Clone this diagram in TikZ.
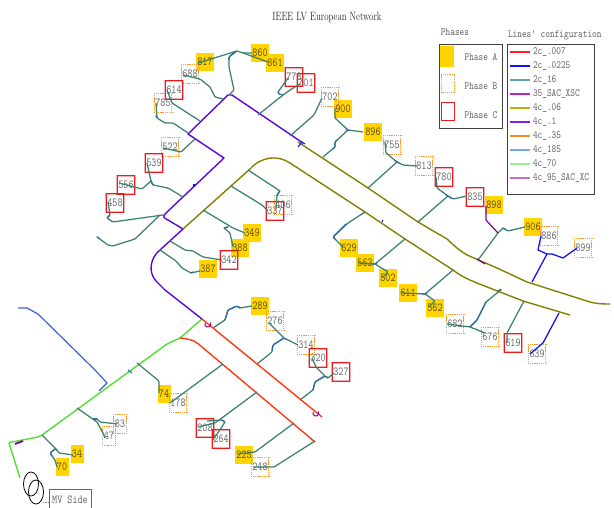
\documentclass[tikz,border=0pt]{standalone}
\usepackage{fontspec}
\usetikzlibrary{calc}
\newfontfamily\narrowtt[FakeStretch=0.81]{Latin Modern Mono}
\newfontfamily\narrowrm[FakeStretch=0.74]{Latin Modern Roman}
\definecolor{cteal}{HTML}{3C8070}
\definecolor{cblue}{HTML}{1010F0}
\definecolor{csteel}{HTML}{3A62D0}
\definecolor{cwig}{HTML}{2F6AA8}
\definecolor{cpurple}{HTML}{5A08E0}
\definecolor{colive}{HTML}{848000}
\definecolor{cred}{HTML}{FF3A10}
\definecolor{cgreen}{HTML}{50E030}
\definecolor{cmag}{HTML}{800090}
\definecolor{cgold}{HTML}{FFD400}
\definecolor{corange}{HTML}{FF9A30}
\definecolor{cbox}{HTML}{F01818}
\definecolor{ctext}{HTML}{606060}
\definecolor{cframe}{HTML}{404040}
\tikzset{
 every node/.style={inner sep=0pt,outer sep=0pt},
 phbase/.style={minimum width=17.5pt,minimum height=18.5pt},
 two/.style={minimum width=13pt},
 lab/.style={text=ctext,font=\narrowtt\fontsize{12.2}{13}\selectfont},
 laba/.style={text=black!65!cgold,font=\narrowtt\fontsize{12.2}{13}\selectfont},
 pha/.style={phbase,fill=cgold},
 br/.style={cteal,line width=1.25pt,line join=round,rounded corners=1pt},
 wig/.style={cwig,line width=1.25pt,line cap=round,rounded corners=1pt},
 bl/.style={cblue,line width=1.25pt,line join=round},
 pu/.style={cpurple,line width=1.4pt,line join=round},
 ol/.style={colive,line width=1.4pt,line join=round},
 rd/.style={cred,line width=1.4pt,line join=round},
 gr/.style={cgreen,line width=1.4pt,line join=round},
 st/.style={csteel,line width=1.2pt,line join=round},
 leg/.style={line width=1.3pt},
 legtext/.style={text=ctext,anchor=west,font=\narrowtt\fontsize{11}{12}\selectfont},
 legmid/.style={text=ctext,font=\narrowtt\fontsize{11}{12}\selectfont},
 framebox/.style={cframe,line width=.8pt},
}
% orange box outlined by filled dots: name, half width, list of x offsets of the dots
\newcommand{\dotring}[3]{%
  \foreach \u in {#3}{
    \fill[corange] ([shift={(\u-.65,-9.9)}]n#1.center) rectangle +(1.3,1.3);
    \fill[corange] ([shift={(\u-.65,8.6)}]n#1.center) rectangle +(1.3,1.3);
  }
  \foreach \v in {-7.15,-5.05,-2.95,-0.85,1.25,3.35,5.45,7.55}{
    \fill[corange] ([shift={(-#2-.65,\v-.65)}]n#1.center) rectangle +(1.3,1.3);
    \fill[corange] ([shift={(#2-.65,\v-.65)}]n#1.center) rectangle +(1.3,1.3);
  }}
\newcommand{\orangebox}[3]{\node[phbase] (n#1) at (#2,#3) {};
  \dotring{#1}{8.75}{-8.75,-6.55,-4.35,-2.15,0.05,2.25,4.45,6.65,8.85}}
\newcommand{\orangeboxtwo}[3]{\node[phbase,two] (n#1) at (#2,#3) {};
  \dotring{#1}{6.5}{-6.5,-4.3,-2.1,0.1,2.3,4.5,6.7}}
% a red box whose outline is a filled ring
\newcommand{\redbox}[3]{\node[phbase] (n#1) at (#2,#3) {};
  \fill[cbox,even odd rule]
    ([xshift=-.65pt,yshift=-.65pt]n#1.south west) rectangle ([xshift=.65pt,yshift=.65pt]n#1.north east)
    ([xshift=.65pt,yshift=.65pt]n#1.south west) rectangle ([xshift=-.65pt,yshift=-.65pt]n#1.north east);}
\begin{document}
\begin{tikzpicture}[x=1pt,y=-1pt]
\useasboundingbox (0,0) rectangle (614,508);
% phase boxes (all boxes first, then all their texts)
\foreach \n/\x/\y in {817/205/62,860/260/53,861/275/63,900/343/109,896/373/132,629/349/248,563/365/263,502/388/278,611/408/293,562/435/308,906/533/227,898/494/205,349/252/233,388/240/248,387/208/269,289/260/306,225/244/455}
  \node[pha] (n\n) at (\x,\y) {};
\foreach \n/\x/\y in {74/164/394,34/77/454,70/62/467}
  \node[pha,two] (n\n) at (\x,\y) {};
\orangebox{688}{190}{74}
\orangebox{785}{163}{103}
\orangebox{522}{170}{147}
\orangebox{702}{330}{97}
\orangebox{755}{392}{145}
\orangebox{813}{424}{166}
\orangebox{886}{549}{236}
\orangebox{899}{583}{248}
\orangebox{406}{283}{205}
\orangebox{276}{275}{321}
\orangebox{314}{306}{345}
\orangebox{178}{178}{403}
\orangebox{248}{260}{467}
\orangebox{682}{455}{324}
\orangebox{676}{490}{337}
\orangebox{639}{537}{354}
\orangeboxtwo{83}{120}{424}
\orangeboxtwo{47}{109}{436}
\redbox{614}{174}{90}
\redbox{539}{154}{163}
\redbox{556}{126}{185}
\redbox{458}{115}{203}
\redbox{778}{294}{77}
\redbox{701}{306}{83}
\redbox{780}{444}{177}
\redbox{835}{475}{197}
\redbox{337}{275}{211}
\redbox{342}{229}{260}
\redbox{320}{318}{358}
\redbox{327}{341}{372}
\redbox{208}{205}{428}
\redbox{264}{221}{439}
\redbox{619}{513}{343}
\foreach \n in {817,860,861,900,896,629,563,502,611,562,906,898,349,388,387,289,225,74,34,70}
  \node[laba] (t\n) at (n\n) {\n};
\foreach \n in {688,785,522,702,755,813,886,899,406,276,314,178,248,682,676,639,83,47,614,539,556,458,778,701,780,835,337,342,320,327,208,264,619}
  \node[lab] (t\n) at (n\n) {\n};
% main lines
\draw[gr] (20,478) -- (9,443) -- (12,442) -- (38,437) -- (42,435) -- (167,344) -- (180,338) -- (202,319);
\draw[rd] (202,319) -- (322,417);
\draw[rd] (180,338) .. controls (192,339) and (197,342) .. (202,347) -- (315,442);
\draw[pu] (202,319) -- (165,290) -- (156,281) .. controls (148,272) and (150,258) .. (160,250) -- (183,229) -- (168,220) .. controls (163,218) and (163,216) .. (165,214) -- (224,158) -- (188,134) -- (228,95) -- (232,95) -- (303,143);
\draw[ol] (183,229) -- (250,169) .. controls (262,156) and (278,155) .. (290,163) -- (365,212) -- (405,239) -- (453,270) .. controls (462,277) and (470,280) .. (477,283) -- (523,301) -- (570,315);
\draw[ol] (298,142) -- (368,188) -- (418,222) -- (447,239) .. controls (455,247) and (462,252) .. (467,255) -- (497,268) -- (527,282) -- (590,302) .. controls (597,304) and (604,304) .. (610,304);
% accents
\draw[cmag,line width=1.8pt] (15,444) -- (23,441);
\draw[st] (18,308) -- (27,308) -- (38,314) -- (95,370) -- (107,383) -- (99,391);
\draw[st] (128,370) -- (132,373);
\draw[cmag,line width=1pt] (205,323) arc (200:-30:3);
\draw[cmag,line width=1pt] (313,412) arc (200:-30:3);
\draw[cblue,line width=1pt] (298,147) -- (302,142) -- (305,144);
\draw[cblue,line width=2pt] (194,184) -- (194,187);
\draw[cblue,line width=1pt] (382,222) -- (383,220);
% branches
\draw[br] (137,363) -- (159,381) -- (159,393);
\draw[br] (77,408) -- (97,422) -- (103,433) -- (105,438);
\draw[br] (93,419) -- (97,419) -- (100,422) -- (117,424);
\draw[br] (42,435) -- (57,450) -- (59,453) -- (73,455);
\draw[br] (57,450) -- (55,449) -- (50,453) -- (55,460) -- (57,467);
\draw[br] (258,115) -- (283,95) -- (290,90) -- (300,84);
\draw[br] (283,95) -- (279,94) -- (278,92) -- (288,78);
\draw[br] (290,136) -- (314,115) -- (322,98);
\draw[br] (229,95) -- (234,90) -- (229,67) -- (229,57) -- (237,51);
\draw[br] (237,51) -- (198,63);
\draw[br] (237,51) -- (243,53) -- (252,53);
\draw[br] (243,53) -- (268,62);
\draw[br] (223,99) -- (215,97) -- (210,87) -- (200,79) -- (183,75);
\draw[br] (200,121) -- (172,103) -- (167,90);
\draw[br] (188,133) -- (173,123) -- (165,123) -- (157,118) -- (156,103);
\draw[br] (195,139) -- (181,152) -- (163,148);
\draw[br] (183,197) -- (168,188) -- (153,185) -- (151,181) -- (147,163);
\draw[br] (151,181) -- (142,189) -- (119,183);
\draw[br] (163,215) -- (113,222) -- (107,218) -- (110,215) -- (108,202);
\draw[br] (160,215) -- (135,239) -- (113,246) -- (108,245) -- (97,237);
\draw[br] (160,250) -- (176,261) -- (182,268) -- (191,273) -- (200,271);
\draw[br] (170,241) -- (185,250) -- (193,251) -- (203,257) -- (222,260);
\draw[br] (203,210) -- (233,228) -- (245,233);
\draw[br] (228,227) -- (224,228) -- (230,233) -- (233,247);
\draw[br] (231,186) -- (262,205) -- (268,211);
\draw[br] (248,170) -- (280,191) -- (277,195) -- (276,209);
\draw[br] (323,157) -- (335,147) -- (335,142) -- (348,130) -- (363,132);
\draw[br] (348,130) -- (335,118) -- (335,108);
\draw[br] (368,188) -- (397,162) -- (386,153) -- (385,142);
\draw[br] (397,162) -- (403,165) -- (417,166);
\draw[br] (418,222) -- (448,196) -- (437,188) -- (436,177);
\draw[br] (448,196) -- (453,199) -- (467,196);
\draw[br] (365,212) -- (348,223) -- (333,237) -- (343,247);
\draw[br] (405,239) -- (375,264) -- (358,263);
\draw[br] (375,264) -- (388,272) -- (382,278);
\draw[br] (453,270) -- (425,294) -- (402,293);
\draw[br] (425,294) -- (435,301) -- (429,307);
\draw[br] (478,260) -- (498,233) -- (503,228) -- (508,231) -- (525,227);
\draw[cmag,line width=1.2pt] (498,233) -- (486,220) -- (486,206);
\draw[cmag,line width=1.2pt] (477,259) -- (485,264);
\draw[bl] (532,282) -- (547,254) -- (538,250) -- (541,236);
\draw[bl] (547,254) -- (552,254) -- (563,258) -- (577,248);
\draw[br] (497,291) -- (502,289) -- (486,302) -- (477,320) -- (470,327) -- (447,324);
\draw[br] (470,327) -- (485,333);
\draw[br] (524,301) -- (507,333) -- (507,343);
\draw[bl] (559,313) -- (543,343) -- (530,354);
\draw[br] (213,328) -- (225,320) -- (228,310) -- (237,306) -- (240,308) -- (252,306);
\draw[br] (257,364) -- (272,352) -- (273,345) -- (284,338) -- (269,323);
\draw[br] (284,338) -- (298,345);
\draw[br] (223,364) -- (170,403);
\draw[br] (257,392) -- (215,423) -- (198,427);
\draw[br] (207,421) -- (222,420) -- (225,422) -- (213,440);
\draw[br] (294,423) -- (255,452) -- (237,454);
\draw[br] (315,441) -- (274,467) -- (253,467);
\draw[br] (300,400) -- (313,390) -- (315,382) -- (325,376) -- (328,378) -- (334,373);
\draw[br] (325,376) -- (316,367) -- (312,358);
% blue parts of the winding cables
\draw[wig] (229,60) -- (229,57) -- (235,51.5);
\draw[wig] (272,350) -- (273,345) -- (284,338) -- (286,339);
\draw[wig] (333,149) -- (335,147) -- (335,142) -- (337,140);
\draw[wig] (346,130) -- (348,130) -- (350,130.5);
\draw[wig] (395,160.5) -- (397,162) -- (399,163);
\draw[wig] (446,195) -- (448,196) -- (451,198);
\draw[wig] (346,224) -- (333,237) -- (335,239);
\draw[wig] (372,264) -- (375,264) -- (377,263);
\draw[wig] (422,294) -- (425,294) -- (427,293);
\draw[wig] (313,390) -- (315,382) -- (325,376) -- (328,378);
\draw[wig] (225,320) -- (228,310) -- (237,306) -- (240,308);
\draw[wig] (97,237) -- (99,238);
\draw[wig] (107,218) -- (110,215);
\draw[wig] (224,228) -- (228,227);
\draw[wig] (55,449) -- (50,453) -- (52,456);
\draw[wig] (93,419) -- (97,419);
\draw[wig] (278,92) -- (279,94);
\draw[wig] (280,191) -- (277,195);
\draw[wig] (191,273) -- (193,272);
\draw[wig] (151,181) -- (153,185);
\draw[wig] (157,118) -- (156,116);
\draw[wig] (225,422) -- (222,420);
\draw[wig] (503,228) -- (505,229);
\draw[wig] (486,302) -- (477,320) -- (470,327);
% transformer
\draw[black,line width=.8pt] (31,484) ellipse (7.5 and 12);
\draw[black,line width=.8pt] (36,492) ellipse (7.5 and 12);
\node[minimum width=42pt,minimum height=22pt] (mv) at (70,500) {};
\draw[black!60,line width=.7pt] (mv.south west) rectangle (mv.north east);
\coordinate (trf) at (43,502);
\draw[black!50,densely dotted,line width=.6pt] (trf) -- (mv.west |- trf);
% legend frames and swatches, before any legend text
\node[minimum width=63pt,minimum height=84pt] (phbox) at (470.5,86) {};
\draw[framebox] (phbox.south west) rectangle (phbox.north east);
\node[fill=cgold,minimum width=14pt,minimum height=21pt] (sa) at (447,56.5) {};
\node[minimum width=13pt,minimum height=18pt] (sb) at (447.5,84) {};
\draw[corange,dash pattern=on 1.2pt off 1pt,line width=1pt] (sb.south west) rectangle (sb.north east);
\node[minimum width=13pt,minimum height=18pt] (sc) at (447.5,112) {};
\draw[cbox,line width=1pt] (sc.south west) rectangle (sc.north east);
\node[minimum width=87pt,minimum height=150pt] (lnbox) at (550.5,119) {};
\draw[framebox] (lnbox.south west) rectangle (lnbox.north east);
\foreach \c/\y in {FF2020/52,1010F0/66,5FA898/80,C020C0/94,BDB300/108,8820E0/122,FF8820/136,70A8F0/150,98F090/164,C070C8/178}{
  \definecolor{tmpc}{HTML}{\c}
  \coordinate (ls\y) at (510,\y);
  \coordinate (le\y) at (530,\y);
  \draw[tmpc,leg] (ls\y) -- (le\y);
}
% all remaining text
\node[font=\narrowrm\fontsize{12}{13}\selectfont,text=black!85] (title) at (327,18) {IEEE LV European Network};
\node[lab] (mvt) at (mv) {MV Side};
\node[legmid] (phl) at (455,32) {Phases};
\node[legmid] (ta) at (481,57) {Phase A};
\node[legmid] (tb) at (481,86) {Phase B};
\node[legmid] (tc) at (481,115) {Phase C};
\node[legtext] (ltt) at (508,35) {Lines' configuration};
\foreach \l/\y in {2c\_.007/52,2c\_.0225/66,2c\_16/80,35\_SAC\_XSC/94,4c\_.06/108,4c\_.1/122,4c\_.35/136,4c\_185/150,4c\_70/164,4c\_95\_SAC\_XC/178}
  \node[legtext] (lt\y) at (533,\y) {\l};
\end{tikzpicture}
\end{document}
